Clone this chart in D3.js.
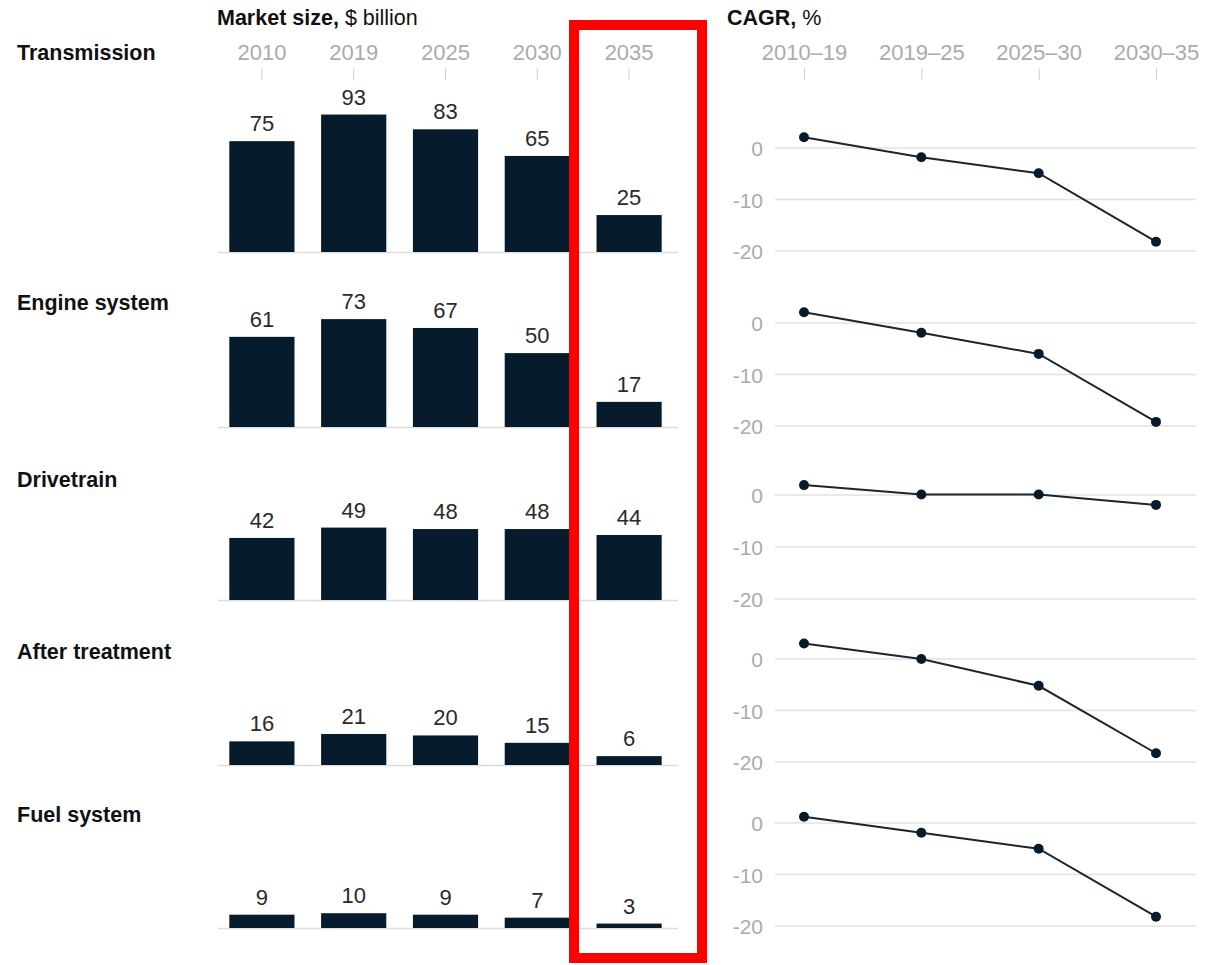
<!DOCTYPE html>
<html>
<head>
<meta charset="utf-8">
<script src="https://cdn.jsdelivr.net/npm/d3@7"></script>
<style>
  html, body { margin: 0; padding: 0; background: #fff; }
  svg { display: block; }
</style>
</head>
<body>
<svg id="chart" width="1211" height="965"></svg>
<script>
// ---------- DATA ----------
const categories = ["Transmission", "Engine system", "Drivetrain", "After treatment", "Fuel system"];
const years = ["2010", "2019", "2025", "2030", "2035"];
const transmission   = [75, 93, 83, 65, 25];
const engineSystem   = [61, 73, 67, 50, 17];
const drivetrain     = [42, 49, 48, 48, 44];
const afterTreatment = [16, 21, 20, 15, 6];
const fuelSystem     = [9, 10, 9, 7, 3];

const periods = ["2010–19", "2019–25", "2025–30", "2030–35"];
const cagrTransmission   = [2.1, -1.8, -4.9, -18.2];
const cagrEngineSystem   = [2.1, -1.9, -6.0, -19.2];
const cagrDrivetrain     = [1.9, 0.1, 0.1, -1.9];
const cagrAfterTreatment = [3.0, 0.0, -5.2, -18.3];
const cagrFuelSystem     = [1.2, -1.9, -5.0, -18.2];
const cagrTicks = [0, -10, -20];

const marketSeries = [transmission, engineSystem, drivetrain, afterTreatment, fuelSystem];
const cagrSeries = [cagrTransmission, cagrEngineSystem, cagrDrivetrain, cagrAfterTreatment, cagrFuelSystem];

// ---------- LAYOUT ----------
const barBaselines = [252, 427, 600, 765, 928];
const labelY = [60, 310, 487, 659, 822];
const lineZero = [148, 323, 495, 659, 823];
const lineMinus20 = [251, 426, 599, 762, 926];

const NAVY = "#061b2c";
const GRAY_TEXT = "#ababab";
const FONT = "'Liberation Sans', Arial, sans-serif";

const svg = d3.select("#chart");

// headers
const h1 = svg.append("text").attr("x", 217).attr("y", 25)
  .style("font-family", FONT).style("font-size", "21.5px").attr("fill", "#111");
h1.append("tspan").attr("font-weight", "bold").text("Market size,");
h1.append("tspan").text(" $ billion");

const h2 = svg.append("text").attr("x", 727).attr("y", 25)
  .style("font-family", FONT).style("font-size", "21.5px").attr("fill", "#111");
h2.append("tspan").attr("font-weight", "bold").text("CAGR,");
h2.append("tspan").text(" %");

// scales
const x = d3.scaleBand().domain(years).range([216, 675]).paddingInner(0.29).paddingOuter(0.145);
const xl = d3.scalePoint().domain(periods).range([804, 1156]);

// top axes (labels + small ticks)
const xAxisTop = svg.append("g").attr("transform", "translate(0,80)")
  .call(d3.axisTop(x).tickSize(12).tickPadding(8));
const xlAxisTop = svg.append("g").attr("transform", "translate(0,80)")
  .call(d3.axisTop(xl).tickSize(12).tickPadding(8));
[xAxisTop, xlAxisTop].forEach(g => {
  g.select(".domain").remove();
  g.selectAll(".tick line").attr("stroke", "#cfcfcf").attr("stroke-width", 1);
  g.selectAll(".tick text").attr("fill", GRAY_TEXT)
    .style("font-family", FONT).style("font-size", "22px");
});

// panels
categories.forEach((cat, i) => {
  const base = barBaselines[i];
  const y = d3.scaleLinear().domain([0, 100]).range([base, base - 147.8]);
  const g = svg.append("g");

  g.append("text").attr("x", 17).attr("y", labelY[i])
    .style("font-family", FONT).style("font-size", "21.5px").attr("font-weight", "bold")
    .attr("fill", "#111").text(cat);

  g.append("line").attr("x1", 218).attr("x2", 678).attr("y1", base + 0.5).attr("y2", base + 0.5)
    .attr("stroke", "#dcdcdc").attr("stroke-width", 1.5);

  const vals = marketSeries[i];
  g.selectAll("rect.bar").data(vals).join("rect").attr("class", "bar")
    .attr("x", (d, j) => x(years[j])).attr("width", x.bandwidth())
    .attr("y", d => y(d)).attr("height", d => base - y(d))
    .attr("fill", NAVY);

  g.selectAll("text.val").data(vals).join("text").attr("class", "val")
    .attr("x", (d, j) => x(years[j]) + x.bandwidth() / 2)
    .attr("y", d => y(d) - 10)
    .attr("text-anchor", "middle")
    .style("font-family", FONT).style("font-size", "22px").attr("fill", "#2a2a2a")
    .text(d => d);

  // line panel
  const yl = d3.scaleLinear().domain([-20, 0]).range([lineMinus20[i], lineZero[i]]);
  const ax = g.append("g").attr("transform", "translate(775,0)")
    .call(d3.axisLeft(yl).tickValues(cagrTicks).tickSize(0).tickPadding(12).tickFormat(d => String(d)));
  ax.select(".domain").remove();
  ax.selectAll(".tick text").attr("fill", GRAY_TEXT)
    .style("font-family", FONT).style("font-size", "21px").attr("dy", "0.36em");

  g.selectAll("line.grid").data(cagrTicks).join("line").attr("class", "grid")
    .attr("x1", 775).attr("x2", 1196)
    .attr("y1", d => yl(d)).attr("y2", d => yl(d))
    .attr("stroke", "#e2e2e2").attr("stroke-width", 1.5);

  const cv = cagrSeries[i];
  const line = d3.line().x((d, j) => xl(periods[j])).y(d => yl(d));
  g.append("path").datum(cv).attr("d", line)
    .attr("fill", "none").attr("stroke", "#1b2430").attr("stroke-width", 2);
  g.selectAll("circle").data(cv).join("circle")
    .attr("cx", (d, j) => xl(periods[j])).attr("cy", d => yl(d)).attr("r", 5)
    .attr("fill", NAVY);
});

// red highlight box
svg.append("rect").attr("x", 574).attr("y", 25).attr("width", 128).attr("height", 933)
  .attr("fill", "none").attr("stroke", "#ff0000").attr("stroke-width", 10);
</script>
</body>
</html>
